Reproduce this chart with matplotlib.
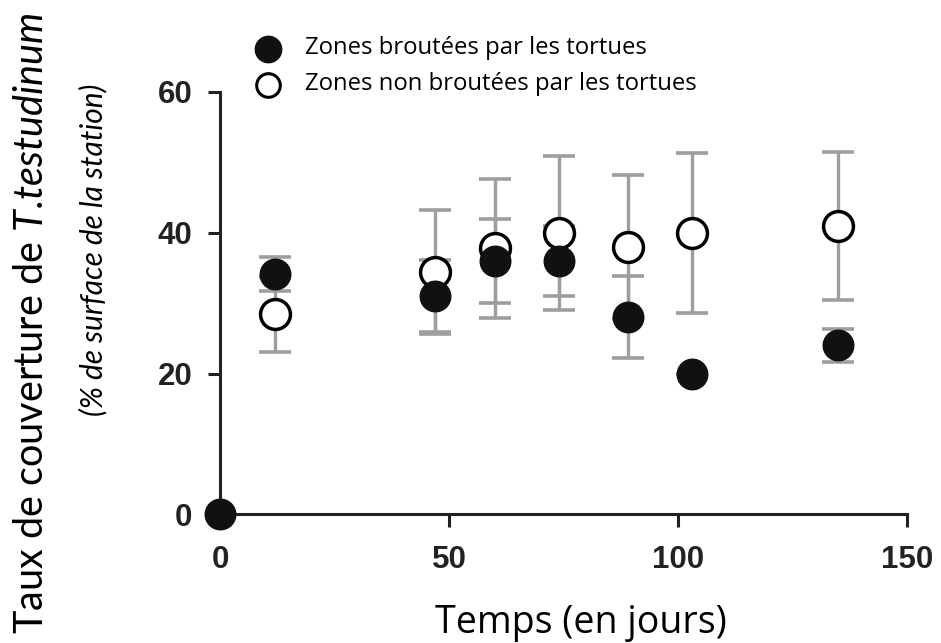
import numpy as np
import matplotlib.pyplot as plt

plt.rcParams['mathtext.fontset'] = 'custom'
plt.rcParams['mathtext.it'] = 'Lato:italic'
plt.rcParams['mathtext.rm'] = 'Lato'

# days of sampling
days = [0, 12, 47, 60, 74, 89, 103, 135]

# grazed zones (filled) - mean and error
grazed = [0, 34.2, 31, 36, 36, 28, 20, 24]
grazed_err = [0, 2.4, 5.1, 6.0, 5.0, 5.8, 0, 2.4]

# non grazed zones (open) - mean and error, no value at day 0
ungrazed_days = [12, 47, 60, 74, 89, 103, 135]
ungrazed = [28.4, 34.4, 37.8, 40, 38, 40, 41]
ungrazed_err = [5.3, 8.8, 9.9, 10.9, 10.2, 11.4, 10.5]

grey = '#9e9e9e'

fig = plt.figure(figsize=(9.41, 6.43), dpi=100)
ax = fig.add_axes([0.234, 0.200, 0.730, 0.657])

# error bars first so the markers sit on top
ax.errorbar(ungrazed_days, ungrazed, yerr=ungrazed_err, fmt='none', ecolor=grey,
            elinewidth=2.4, capsize=11.5, capthick=2.6, zorder=2)
ax.errorbar(days, grazed, yerr=grazed_err, fmt='none', ecolor=grey,
            elinewidth=2.4, capsize=11.5, capthick=2.6, zorder=2)

ax.plot(ungrazed_days, ungrazed, 'o', ms=21.5, mfc='white', mec='black', mew=2.5,
        ls='none', zorder=3, clip_on=False)
ax.plot(days, grazed, 'o', ms=22, mfc='#111111', mec='#111111', ls='none',
        zorder=4, clip_on=False)

ax.set_xlim(0, 150)
ax.set_ylim(0, 60)
ax.set_xticks([0, 50, 100, 150])
ax.set_yticks([0, 20, 40, 60])

for s in ['top', 'right']:
    ax.spines[s].set_visible(False)
for s in ['left', 'bottom']:
    ax.spines[s].set_linewidth(2.2)
    ax.spines[s].set_color('#222222')

ax.tick_params(axis='both', direction='out', length=9, width=2.2, color='#222222')
ax.tick_params(axis='x', pad=13)
ax.tick_params(axis='y', pad=11)
for lab in ax.get_xticklabels() + ax.get_yticklabels():
    lab.set_fontfamily('Liberation Sans')
    lab.set_fontweight('bold')
    lab.set_fontsize(22.5)
    lab.set_color('#222222')

# axis titles
fig.text(0.617, 0.016, 'Temps (en jours)', family='Open Sans', fontsize=27,
         ha='center', va='baseline')
fig.text(0.034, 0.498, 'Taux de couverture de $\\mathit{T.\\!testudinum}$',
         family='Lato', fontsize=28.5, rotation=90, ha='center', va='center')
fig.text(0.099, 0.611, '(% de surface de la station)', family='Lato',
         style='italic', fontsize=21.5, rotation=90, ha='center', va='center')

# legend drawn by hand at the top
fig.lines.append(plt.Line2D([0.285], [0.924], marker='o', ms=19, mfc='#111111',
                            mec='#111111', transform=fig.transFigure))
fig.lines.append(plt.Line2D([0.285], [0.868], marker='o', ms=17, mfc='white',
                            mec='black', mew=2.2, transform=fig.transFigure))
fig.text(0.324, 0.926, 'Zones broutées par les tortues', family='Open Sans',
         fontsize=17.2, va='center')
fig.text(0.324, 0.870, 'Zones non broutées par les tortues', family='Open Sans',
         fontsize=17.2, va='center')

fig.savefig('out.png', dpi=100)
